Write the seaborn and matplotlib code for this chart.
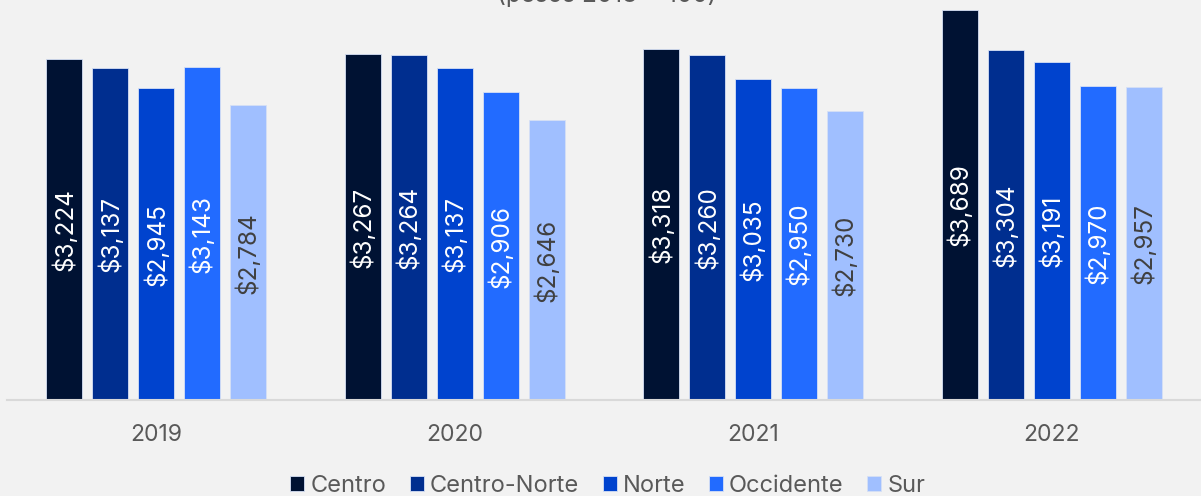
import pandas as pd
import matplotlib.pyplot as plt
import seaborn as sns

years = ["2019", "2020", "2021", "2022"]
regions = ["Centro", "Centro-Norte", "Norte", "Occidente", "Sur"]
centro = [3224, 3267, 3318, 3689]
centro_norte = [3137, 3264, 3260, 3304]
norte = [2945, 3137, 3035, 3191]
occidente = [3143, 2906, 2950, 2970]
sur = [2784, 2646, 2730, 2957]

colors = ["#001233", "#002e8f", "#0043ce", "#226bff", "#a0bfff"]
label_colors = ["white", "white", "white", "white", "#404040"]

series = [centro, centro_norte, norte, occidente, sur]
rows = []
for region, vals in zip(regions, series):
    for year, v in zip(years, vals):
        rows.append({"year": year, "region": region, "value": v})
df = pd.DataFrame(rows)

sns.set_style("white")
plt.rcParams["font.family"] = ["Inter", "DejaVu Sans"]

bg = "#f2f2f2"
fig = plt.figure(figsize=(12.01, 4.96), dpi=100, facecolor=bg)
ax = fig.add_axes([7 / 1201, 96 / 496, 1194 / 1201, 400 / 496])
ax.set_facecolor(bg)

sns.barplot(data=df, x="year", y="value", hue="region", hue_order=regions,
            palette=colors, saturation=1, width=0.77, gap=0.22, ax=ax,
            legend=True, edgecolor="#d6e0f5", linewidth=0.6)

for cont, col in zip(ax.containers, label_colors):
    labels = ["${:,.0f}".format(b.get_height()) for b in cont]
    ax.bar_label(cont, labels=labels, label_type="center", rotation=90,
                 color=col, fontsize=17.5)

ax.set_ylim(0, 3780)
ax.set_xlim(-0.5, 3.5)
ax.set_xlabel("")
ax.set_ylabel("")
ax.set_yticks([])
for s in ["top", "right", "left"]:
    ax.spines[s].set_visible(False)
ax.spines["bottom"].set_color("#d9d9d9")
ax.spines["bottom"].set_linewidth(1.5)
ax.tick_params(axis="x", length=0, pad=17, labelsize=16.5, labelcolor="#595959")

handles, labs = ax.get_legend_handles_labels()
ax.legend_.remove()
fig.legend(handles, labs, loc="lower center", bbox_to_anchor=(0.506, -0.045),
           ncol=5, frameon=False, handlelength=0.6,
           handleheight=0.6, handletextpad=0.25, columnspacing=1.0,
           labelcolor="#595959", prop={"size": 17})

fig.text(0.505, 0.996, "(pesos 2018 = 100)", ha="center", va="baseline",
         fontsize=17.5, color="#595959")

fig.savefig("out.png", dpi=100, facecolor=bg)
